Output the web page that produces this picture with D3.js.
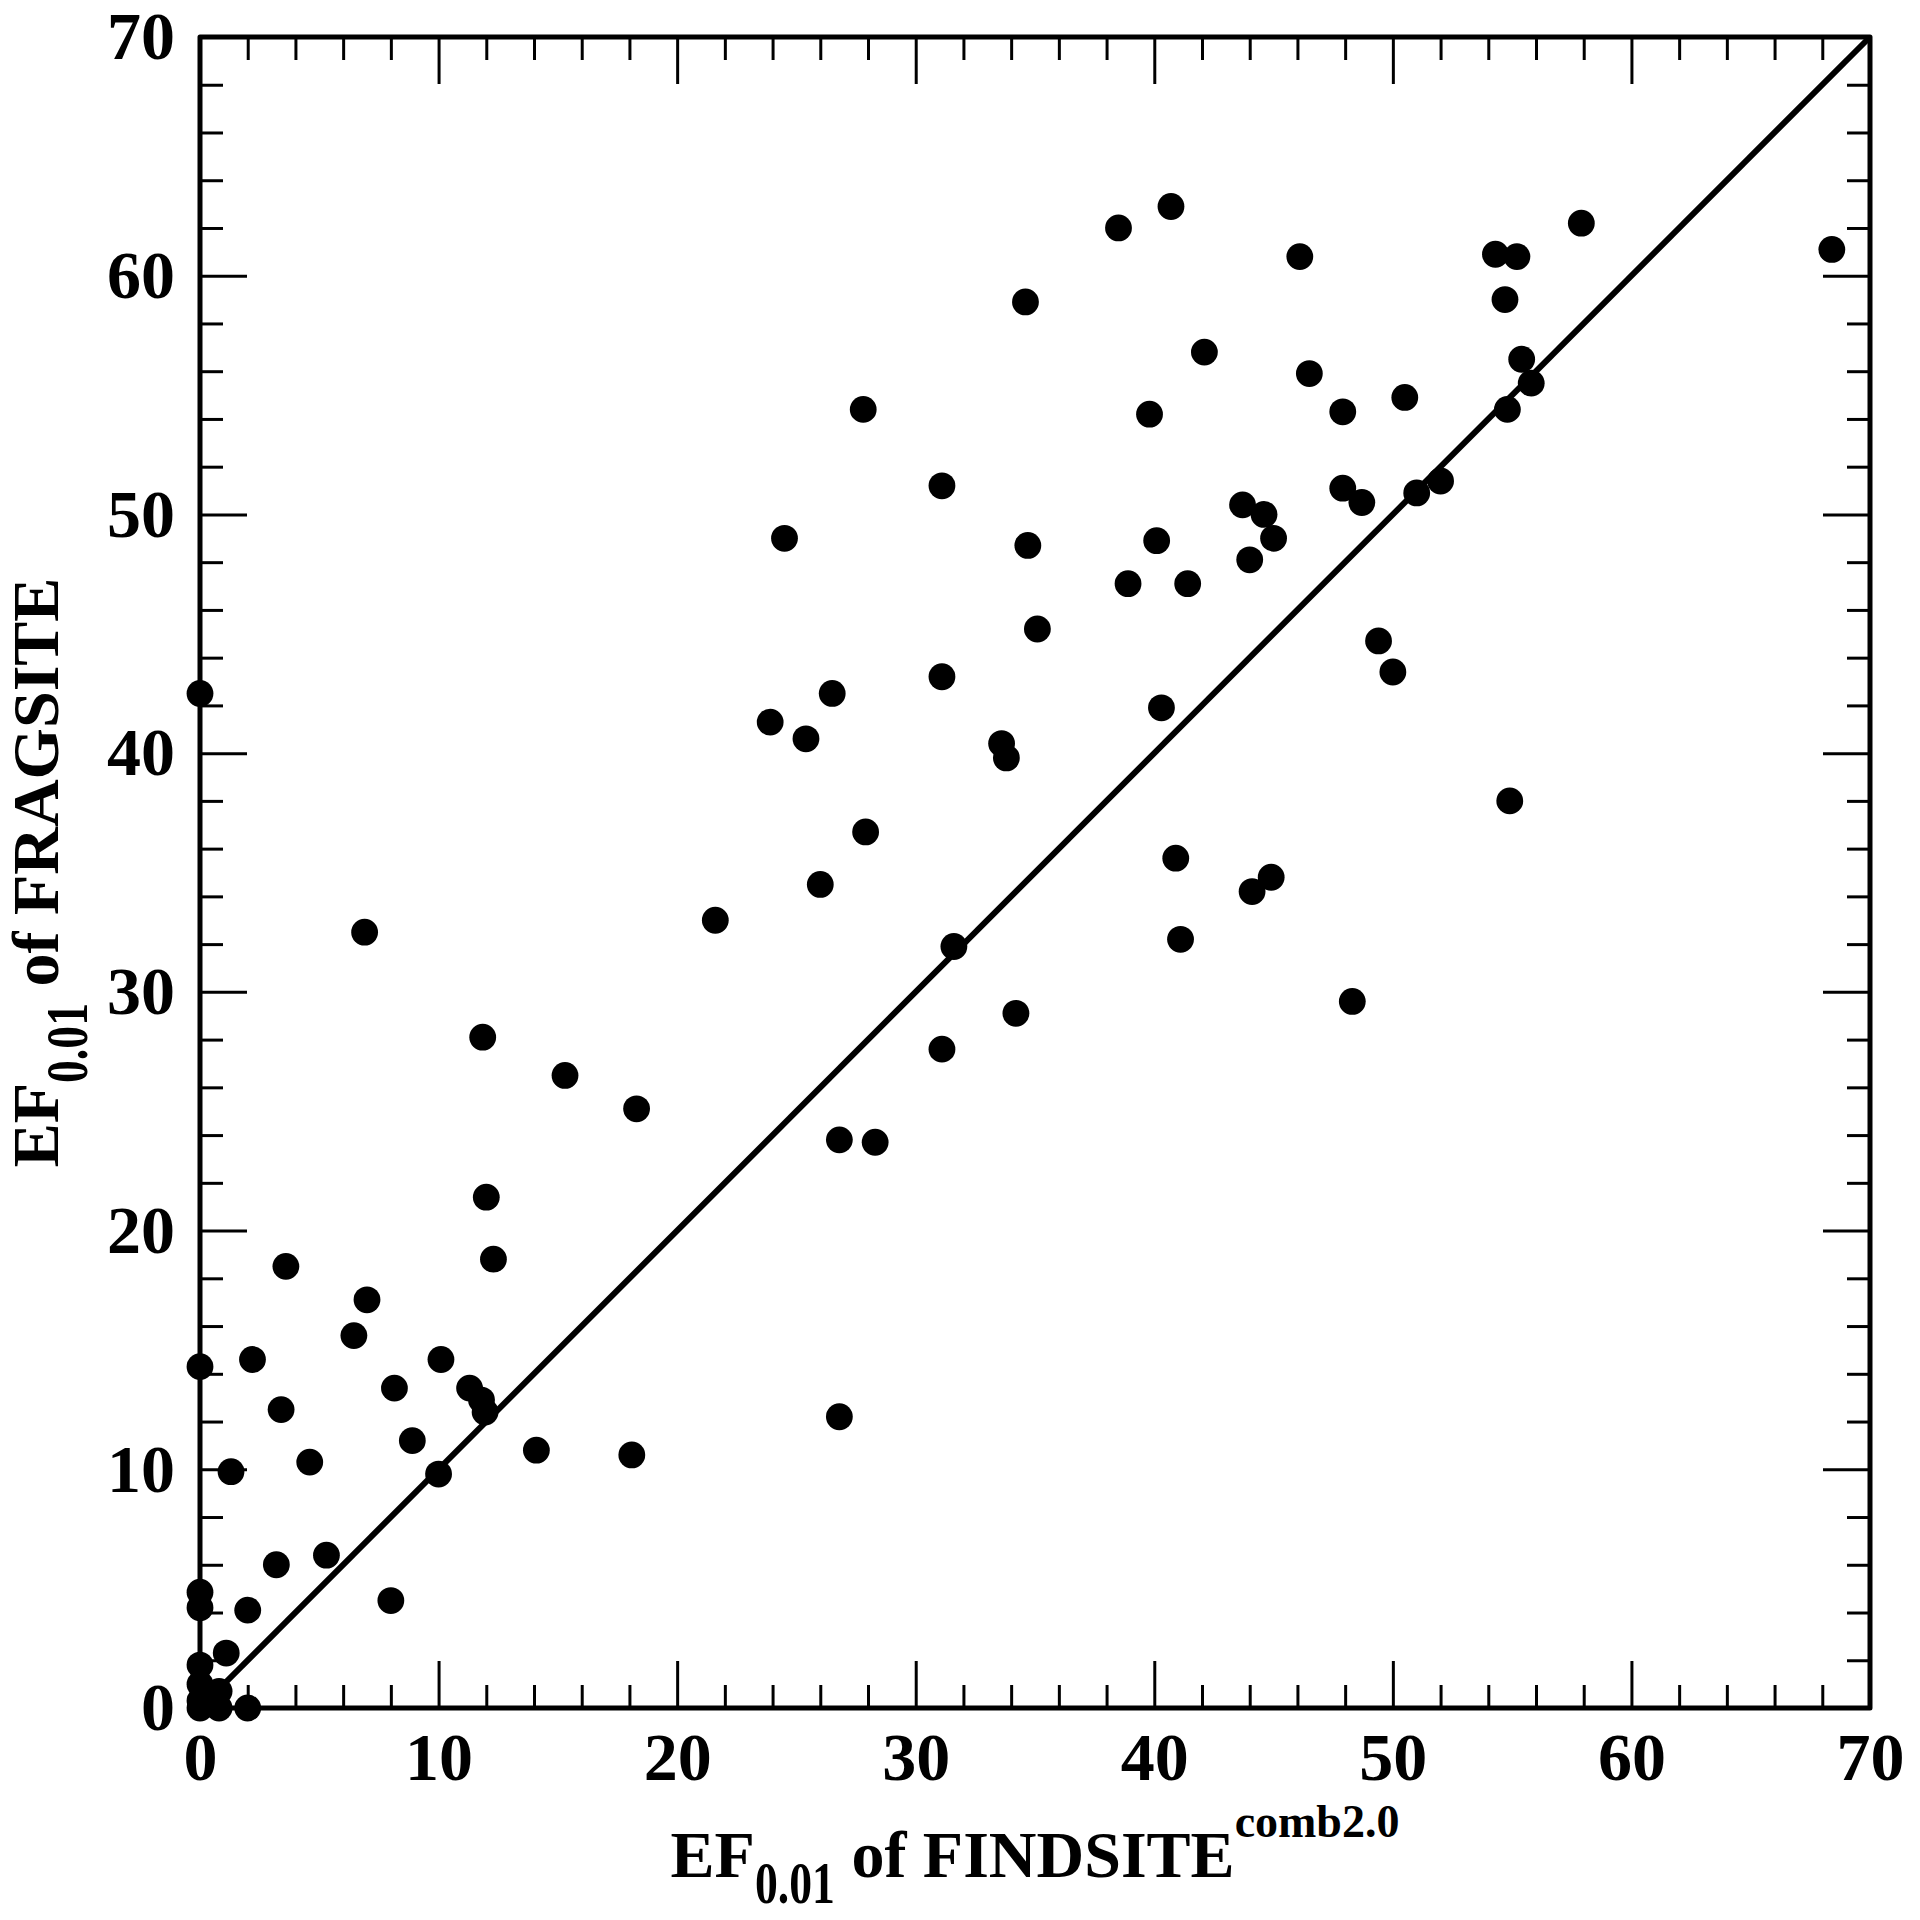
<!DOCTYPE html>
<html>
<head>
<meta charset="utf-8">
<script src="https://cdn.jsdelivr.net/npm/d3@7"></script>
<style>
    body { margin: 0; background: #fff; }
    text { font-family: "Liberation Serif", "Times New Roman", serif; font-weight: bold; }
</style>
</head>
<body>
<div id="chart"></div>
<script>
// EF0.01 values
const findsite = [
    68.4, 57.9, 54.3, 55.2, 54.7, 55.4, 55.8, 54.8, 50.5, 52.0,
    51.0, 47.9, 47.9, 48.7, 46.5, 46.1, 40.7, 38.5, 42.1, 39.8,
    34.6, 43.7, 44.6, 45.0, 44.0, 40.1, 38.9, 41.4, 34.7, 35.1,
    31.1, 27.8, 24.5, 31.1, 26.5, 23.9, 25.4, 33.6, 33.8, 40.3,
    49.4, 50.0, 54.9, 27.9, 26.0, 40.9, 44.1, 44.9, 41.1, 31.6,
    21.6, 6.9, 34.2, 48.3, 31.1, 11.85, 15.3, 18.3, 26.8, 28.3,
    12.0, 12.3, 3.6, 7.0, 6.45, 2.2, 0, 10.1, 8.15, 11.3,
    11.8, 11.95, 3.4, 8.9, 26.8, 14.1, 18.1, 4.6, 1.3, 10.0,
    5.3, 3.2, 8.0, 2.0, 0, 0, 1.1, 0, 0, 0,
    0, 0.8, 0.8, 0.4, 2.0, 0
]
const fragsite = [
    61.1, 62.2, 60.9, 60.8, 59.0, 56.5, 55.5, 54.4, 54.9, 51.4,
    50.9, 54.3, 51.1, 50.5, 55.9, 60.8, 62.9, 62.0, 56.8, 54.2,
    58.9, 50.4, 50.0, 49.0, 48.1, 48.9, 47.1, 47.1, 48.7, 45.2,
    51.2, 54.4, 49.0, 43.2, 42.5, 41.3, 40.6, 40.4, 39.8, 41.9,
    44.7, 43.4, 38.0, 36.7, 34.5, 35.6, 34.2, 34.8, 32.2, 31.9,
    33.0, 32.5, 29.1, 29.6, 27.6, 28.1, 26.5, 25.1, 23.8, 23.7,
    21.4, 18.8, 18.5, 17.1, 15.6, 14.6, 14.3, 14.6, 13.4, 13.4,
    12.9, 12.4, 12.5, 11.2, 12.2, 10.8, 10.6, 10.3, 9.9, 9.8,
    6.4, 6.0, 4.5, 4.1, 4.85, 4.2, 2.3, 1.8, 1.0, 0.3,
    0, 0.7, 0, 0.4, 0, 42.5
]
const majorTicks = [0, 10, 20, 30, 40, 50, 60, 70]
const minorTicks = d3.range(0, 71, 2).filter(v => v % 10 != 0)

buildChart()

function buildChart() {
    let width = 1920, height = 1920
    let margin = {left: 200, right: 50, top: 37, bottom: 212}

    let svg = d3.select("#chart")
                .append("svg")
                    .attr("width", width)
                    .attr("height", height)

    let x = d3.scaleLinear().domain([0, 70]).range([margin.left, width - margin.right])
    let y = d3.scaleLinear().domain([0, 70]).range([height - margin.bottom, margin.top])

    // axes: ticks drawn inward on all four sides
    function addAxis(axis, tx, ty, labels) {
        let g = svg.append("g")
            .attr("transform", `translate(${tx},${ty})`)
            .call(axis)
        g.select(".domain").remove()
        g.selectAll(".tick line").attr("stroke", "#000").attr("stroke-width", 3)
        if (labels) {
            g.selectAll(".tick text")
                .attr("fill", "#000")
                .style("font-size", "68px")
        } else {
            g.selectAll(".tick text").remove()
        }
    }

    let y0 = y(0), x0 = x(0)
    addAxis(d3.axisBottom(x).tickValues(majorTicks).tickSize(-47).tickPadding(24).tickFormat(d3.format("d")), 0, y0, true)
    addAxis(d3.axisBottom(x).tickValues(minorTicks).tickSize(-23), 0, y0, false)
    addAxis(d3.axisTop(x).tickValues(majorTicks).tickSize(-47), 0, y(70), false)
    addAxis(d3.axisTop(x).tickValues(minorTicks).tickSize(-23), 0, y(70), false)
    addAxis(d3.axisLeft(y).tickValues(majorTicks).tickSize(-47).tickPadding(25).tickFormat(d3.format("d")), x0, 0, true)
    addAxis(d3.axisLeft(y).tickValues(minorTicks).tickSize(-23), x0, 0, false)
    addAxis(d3.axisRight(y).tickValues(majorTicks).tickSize(-47), x(70), 0, false)
    addAxis(d3.axisRight(y).tickValues(minorTicks).tickSize(-23), x(70), 0, false)

    // diagonal y = x
    svg.append("line")
        .attr("x1", x(0)).attr("y1", y(0))
        .attr("x2", x(70)).attr("y2", y(70))
        .attr("stroke", "#000")
        .attr("stroke-width", 6)

    // frame
    svg.append("rect")
        .attr("x", x(0)).attr("y", y(70))
        .attr("width", x(70) - x(0))
        .attr("height", y(0) - y(70))
        .attr("fill", "none")
        .attr("stroke", "#000")
        .attr("stroke-width", 5)
        .attr("stroke-linejoin", "round")

    let points = findsite.map((v, i) => ({fx: v, fr: fragsite[i]}))
    svg.selectAll("circle")
        .data(points)
        .enter().append("circle")
            .attr("cx", d => x(d.fx))
            .attr("cy", d => y(d.fr))
            .attr("r", 13.4)
            .attr("fill", "#000")

    // x title
    let xt = svg.append("text")
        .attr("x", (x(0) + x(70)) / 2)
        .attr("y", 1877)
        .attr("text-anchor", "middle")
        .style("font-size", "66px")
    xt.append("tspan").text("EF")
    xt.append("tspan").attr("dy", 26).style("font-size", "59px")
        .attr("textLength", 80).attr("lengthAdjust", "spacingAndGlyphs").text("0.01")
    xt.append("tspan").attr("dy", -26).text(" of FINDSITE")
    xt.append("tspan").attr("dy", -40).style("font-size", "46px").text("comb2.0")

    // y title
    let yt = svg.append("text")
        .attr("transform", `translate(58,${(y(0) + y(70)) / 2}) rotate(-90)`)
        .attr("text-anchor", "middle")
        .style("font-size", "66px")
    yt.append("tspan").text("EF")
    yt.append("tspan").attr("dy", 29).style("font-size", "59px")
        .attr("textLength", 80).attr("lengthAdjust", "spacingAndGlyphs").text("0.01")
    yt.append("tspan").attr("dy", -29).text(" of FRAGSITE")
}
</script>
</body>
</html>
